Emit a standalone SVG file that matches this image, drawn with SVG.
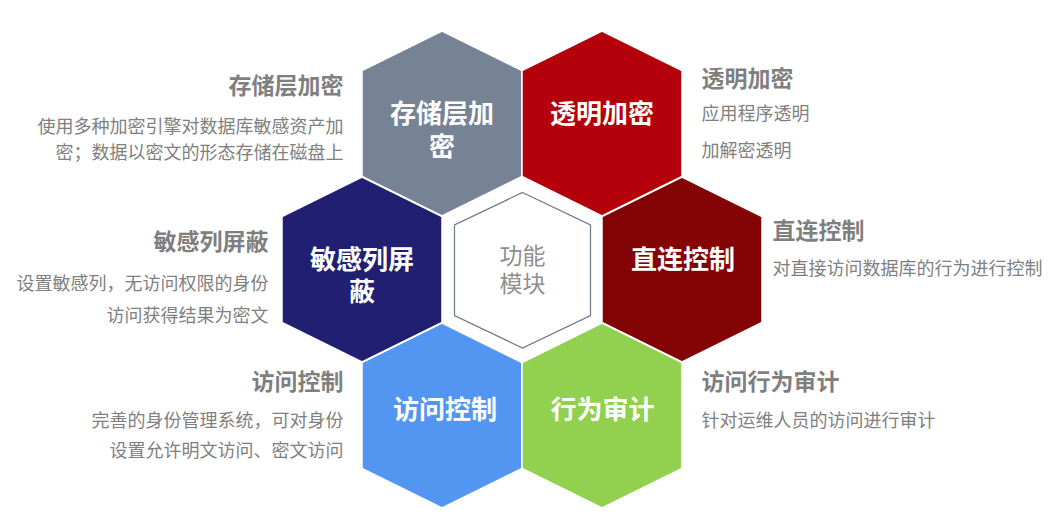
<svg xmlns="http://www.w3.org/2000/svg" width="1058" height="527" viewBox="0 0 1058 527">
<defs>
<style>
.hex{stroke:#ffffff;stroke-width:1.5}
.hl{font-family:"Noto Sans CJK SC","Noto Sans",sans-serif;font-weight:bold;font-size:26px;fill:#ffffff;text-anchor:middle}
.ct{font-family:"Noto Sans CJK SC","Noto Sans",sans-serif;font-size:23px;fill:#8f8f8f;text-anchor:middle}
.tt{font-family:"Noto Sans CJK SC","Noto Sans",sans-serif;font-weight:bold;font-size:23px;fill:#7f7f7f}
.ds{font-family:"Noto Sans CJK SC","Noto Sans",sans-serif;font-size:18px;fill:#808080}
.r{text-anchor:end}
</style>
</defs>
<rect width="1058" height="527" fill="#ffffff"/>
<g id="hex-storage">
<polygon class="hex" fill="#768395" points="442,31 522,70.5 522,176.5 442,216 362,176.5 362,70.5"/>
<text class="hl" x="442" y="122.5">存储层加<tspan x="442" dy="33">密</tspan></text>
</g>
<g id="hex-transparent">
<polygon class="hex" fill="#B4000A" points="602,31 682,70.5 682,176.5 602,216 522,176.5 522,70.5"/>
<text class="hl" x="602" y="122.5">透明加密</text>
</g>
<g id="hex-mask">
<polygon class="hex" fill="#201F72" points="362,177 442,216.5 442,322.5 362,362 282,322.5 282,216.5"/>
<text class="hl" x="362" y="269">敏感列屏<tspan x="362" dy="32">蔽</tspan></text>
</g>
<g id="hex-center">
<polygon fill="#ffffff" stroke="#6E7A8A" stroke-width="1.2" points="522.5,192.5 590.5,225 590.5,315.5 522.5,348 454.5,315.5 454.5,225"/>
<text class="ct" x="522.5" y="263.5">功能<tspan x="522.5" dy="28.5">模块</tspan></text>
</g>
<g id="hex-direct">
<polygon class="hex" fill="#830404" points="682,177 762,216.5 762,322.5 682,362 602,322.5 602,216.5"/>
<text class="hl" x="683" y="269">直连控制</text>
</g>
<g id="hex-access">
<polygon class="hex" fill="#5396F2" points="442,323 522,362.5 522,468.5 442,508 362,468.5 362,362.5"/>
<text class="hl" x="445" y="419">访问控制</text>
</g>
<g id="hex-audit">
<polygon class="hex" fill="#92D050" points="602,323 682,362.5 682,468.5 602,508 522,468.5 522,362.5"/>
<text class="hl" x="602.5" y="419">行为审计</text>
</g>
<g id="connectors"></g>
<g id="desc-storage">
<text class="tt r" x="343.5" y="93.7">存储层加密</text>
<text class="ds r" x="343.5" y="132.5">使用多种加密引擎对数据库敏感资产加</text>
<text class="ds r" x="343.5" y="158.5">密；数据以密文的形态存储在磁盘上</text>
</g>
<g id="desc-transparent">
<text class="tt" x="701.5" y="87">透明加密</text>
<text class="ds" x="701.5" y="120">应用程序透明</text>
<text class="ds" x="701.5" y="157">加解密透明</text>
</g>
<g id="desc-mask">
<text class="tt r" x="268.5" y="250.4">敏感列屏蔽</text>
<text class="ds r" x="268.5" y="290">设置敏感列，无访问权限的身份</text>
<text class="ds r" x="268.5" y="322">访问获得结果为密文</text>
</g>
<g id="desc-direct">
<text class="tt" x="772.5" y="239.4">直连控制</text>
<text class="ds" x="772.5" y="275">对直接访问数据库的行为进行控制</text>
</g>
<g id="desc-access">
<text class="tt r" x="343.5" y="390.4">访问控制</text>
<text class="ds r" x="343.5" y="427">完善的身份管理系统，可对身份</text>
<text class="ds r" x="343.5" y="457">设置允许明文访问、密文访问</text>
</g>
<g id="desc-audit">
<text class="tt" x="701.5" y="390.4">访问行为审计</text>
<text class="ds" x="701.5" y="427">针对运维人员的访问进行审计</text>
</g>
</svg>
